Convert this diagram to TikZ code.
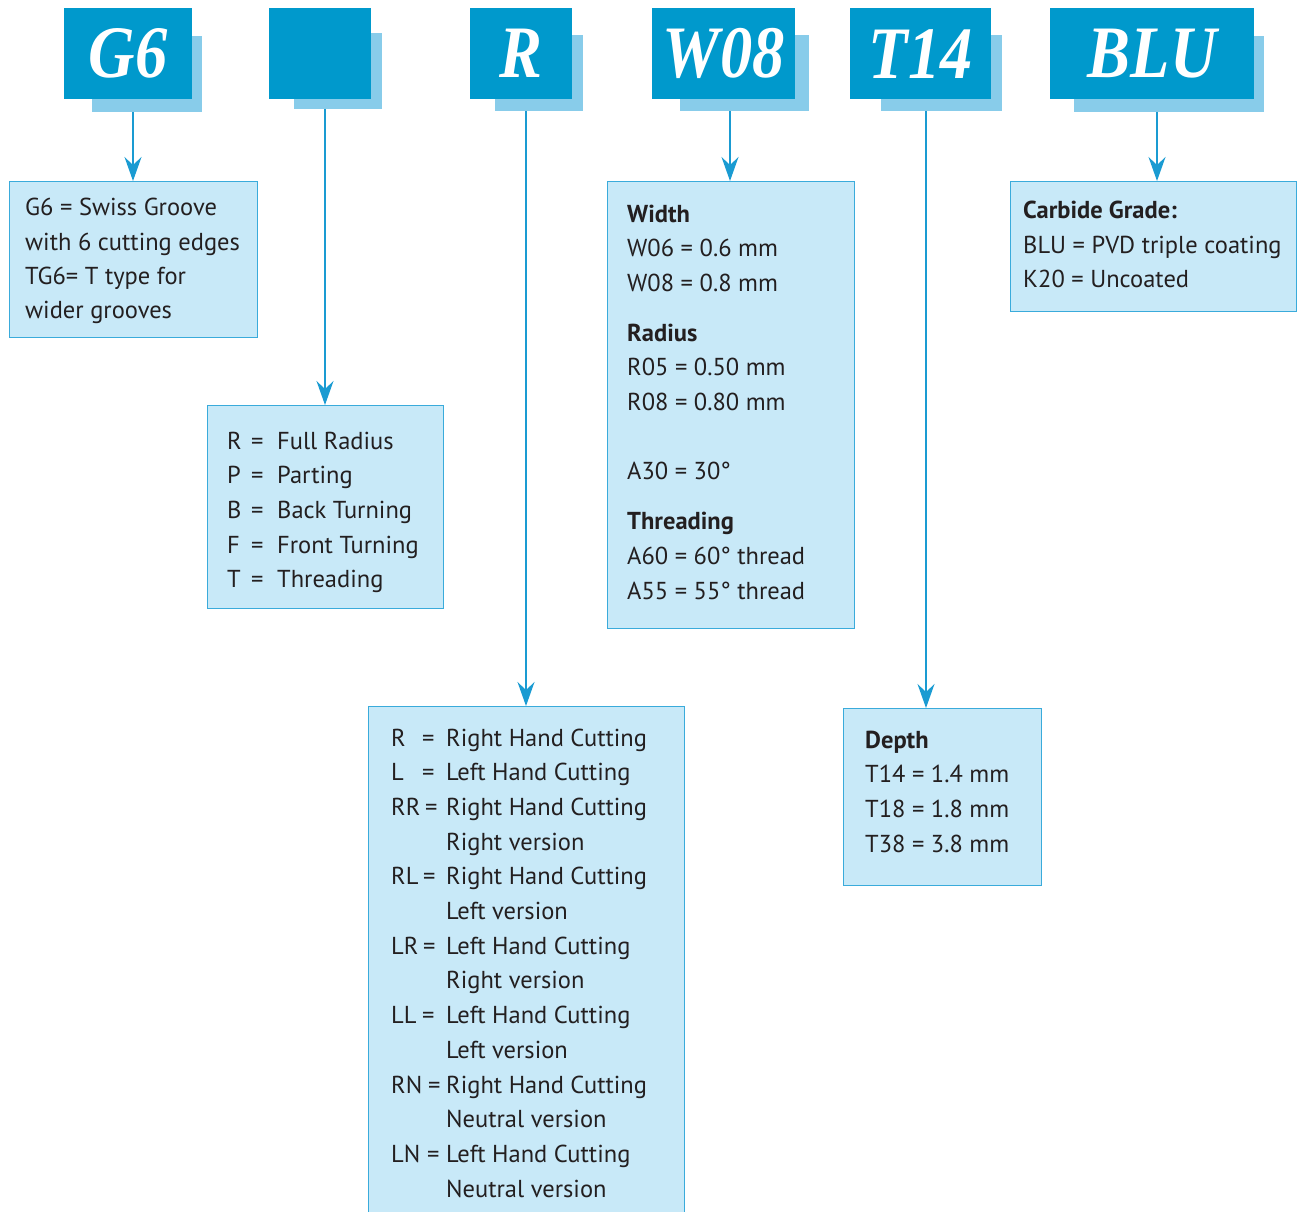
\documentclass[tikz,border=0pt]{standalone}
\usepackage{fontspec}
\setmainfont{PT Sans}
\newfontfamily\hdrfont[FakeStretch=0.87]{Liberation Serif}
\usetikzlibrary{arrows.meta}
\definecolor{hdrblue}{HTML}{0099CC}
\definecolor{shadowblue}{HTML}{88CCEA}
\definecolor{boxfill}{HTML}{C8E9F8}
\definecolor{boxline}{HTML}{3AABDB}
\definecolor{conn}{HTML}{1A9BD2}
\definecolor{txt}{HTML}{231F20}
\tikzset{
  hdr/.style={fill=hdrblue, text=white, inner sep=0pt, anchor=north west,
    font=\hdrfont\bfseries\itshape\fontsize{74}{74}\selectfont},
  shad/.style={fill=shadowblue, inner sep=0pt, anchor=north west},
  infobox/.style={fill=boxfill, draw=boxline, line width=1.4pt, inner sep=0pt, anchor=north west},
  tx/.style={anchor=base west, inner sep=0pt, text=txt, font=\fontsize{24.5}{30}\selectfont},
  txb/.style={tx, font=\fontsize{24.5}{30}\selectfont\bfseries},
  conline/.style={draw=conn, line width=1.5pt},
  arr/.style={conline, -{Stealth[length=24pt, width=17pt, inset=8pt]}}
}
\begin{document}
\begin{tikzpicture}[x=1pt,y=-1pt]
\useasboundingbox (0,0) rectangle (1298,1212);
% ---- header shadows
\node[shad, minimum width=110, minimum height=76] (sG) at (92,36) {};
\node[shad, minimum width=88, minimum height=76] (sX) at (294,33) {};
\node[shad, minimum width=88, minimum height=76] (sR) at (495,35) {};
\node[shad, minimum width=129, minimum height=76] (sW) at (680,35) {};
\node[shad, minimum width=121, minimum height=76] (sT) at (881,35) {};
\node[shad, minimum width=190, minimum height=76] (sB) at (1074,36) {};
% ---- header boxes
\node[hdr, minimum width=128, minimum height=91] (hG) at (64,8) {G6};
\node[hdr, minimum width=102, minimum height=91] (hX) at (269,8) {};
\node[hdr, minimum width=102, minimum height=91] (hR) at (470,8) {R};
\node[hdr, minimum width=143, minimum height=91] (hW) at (652,8) {W08};
\node[hdr, minimum width=141, minimum height=91] (hT) at (850,8) {T14};
\node[hdr, minimum width=204, minimum height=91] (hB) at (1050,8) {BLU};
% ---- info boxes
\node[infobox, minimum width=248, minimum height=156] (bG) at (9,181) {};
\node[infobox, minimum width=236, minimum height=203] (bX) at (207,405) {};
\node[infobox, minimum width=316, minimum height=520] (bR) at (368,706) {};
\node[infobox, minimum width=247, minimum height=447] (bW) at (607,181) {};
\node[infobox, minimum width=198, minimum height=177] (bT) at (843,708) {};
\node[infobox, minimum width=286, minimum height=130] (bB) at (1010,181) {};
% ---- connectors
\coordinate (cG) at (133,112);
\coordinate (cX) at (325,109);
\coordinate (cR) at (526,111);
\coordinate (cW) at (730,111);
\coordinate (cT) at (926,111);
\coordinate (cB) at (1157,112);
\draw[arr] (cG) -- (cG |- bG.north);
\draw[arr] (cX) -- (cX |- bX.north);
\draw[arr] (cR) -- (cR |- bR.north);
\draw[arr] (cW) -- (cW |- bW.north);
\draw[arr] (cT) -- (cT |- bT.north);
\draw[arr] (cB) -- (cB |- bB.north);
% ---- G6 text
\node[tx] (g1) at (25,215) {G6 = Swiss Groove};
\node[tx] (g2) at (25,250) {with 6 cutting edges};
\node[tx] (g3) at (25,284) {TG6= T type for};
\node[tx] (g4) at (25,318) {wider grooves};
% ---- R/P text
\foreach \c/\t [count=\i from 0] in {R/Full Radius, P/Parting, B/Back Turning, F/Front Turning, T/Threading}{
  \node[tx] (xc\i) at (227,449+34.7*\i) {\c};
  \node[tx] (xe\i) at (251,449+34.7*\i) {=};
  \node[tx] (xt\i) at (277,449+34.7*\i) {\t};
}
% ---- R/L text
\foreach \c/\t [count=\i from 0] in {R/Right Hand Cutting, L/Left Hand Cutting, RR/Right Hand Cutting, /Right version, RL/Right Hand Cutting, /Left version, LR/Left Hand Cutting, /Right version, LL/Left Hand Cutting, /Left version, RN/Right Hand Cutting, /Neutral version, LN/Left Hand Cutting, /Neutral version}{
  \node[tx] (rc\i) at (391,746+34.7*\i) {\c};
  \node[tx] (rt\i) at (446,746+34.7*\i) {\t};
}
\foreach \i/\ex in {0/422,1/422,2/425,4/423,6/423,8/422,10/428,12/427}{
  \node[tx] (re\i) at (\ex,746+34.7*\i) {=};
}
% ---- Width text
\node[txb] (w1) at (627,222) {Width};
\node[tx] (w2) at (627,256) {W06 = 0.6 mm};
\node[tx] (w3) at (627,291) {W08 = 0.8 mm};
\node[txb] (w4) at (627,341) {Radius};
\node[tx] (w5) at (627,375) {R05 = 0.50 mm};
\node[tx] (w6) at (627,410) {R08 = 0.80 mm};
\node[tx] (w7) at (627,479) {A30 = 30°};
\node[txb] (w8) at (627,529) {Threading};
\node[tx] (w9) at (627,564) {A60 = 60° thread};
\node[tx] (w10) at (627,599) {A55 = 55° thread};
% ---- Depth text
\node[txb] (d1) at (865,748) {Depth};
\node[tx] (d2) at (865,782) {T14 = 1.4 mm};
\node[tx] (d3) at (865,817) {T18 = 1.8 mm};
\node[tx] (d4) at (865,852) {T38 = 3.8 mm};
% ---- Carbide text
\node[txb] (k1) at (1023,218) {Carbide Grade:};
\node[tx] (k2) at (1023,253) {BLU = PVD triple coating};
\node[tx] (k3) at (1023,287) {K20 = Uncoated};
\end{tikzpicture}
\end{document}
